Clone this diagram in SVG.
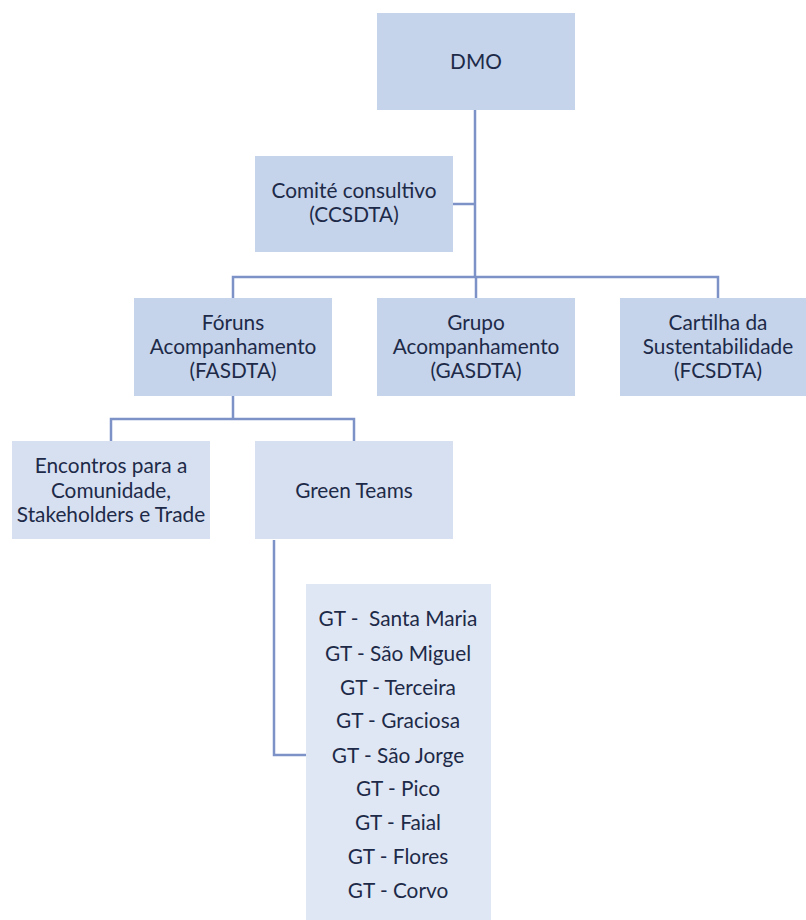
<svg xmlns="http://www.w3.org/2000/svg" width="806" height="920" viewBox="0 0 806 920">
<style>
.b1{fill:#c5d3eb}
.b2{fill:#d7e0f1}
.b3{fill:#e0e7f4}
.t{font-family:Lato,"Liberation Sans",sans-serif;font-size:20.8px;fill:#1d2a48;text-anchor:middle}
.c{fill:none;stroke:#7d93c8;stroke-width:2.5}
</style>
<rect width="806" height="920" fill="#ffffff"/>
<g id="connectors">
<path class="c" d="M475,110 V277"/>
<path class="c" d="M453,204 H475"/>
<path class="c" d="M233,298 V277 H718 V298"/>
<path class="c" d="M476,277 V298"/>
<path class="c" d="M233,396 V419"/>
<path class="c" d="M111,441 V419 H354 V441"/>
<path class="c" d="M274,540 V755 H306"/>
</g>
<g id="dmo"><rect class="b1" x="377" y="13" width="198" height="97"/><text class="t" x="476" y="69">DMO</text></g>
<g id="comite"><rect class="b1" x="255" y="156" width="198" height="96"/><text class="t" x="354" y="198">Comité consultivo</text><text class="t" x="354" y="222">(CCSDTA)</text></g>
<g id="foruns"><rect class="b1" x="134" y="298" width="198" height="98"/><text class="t" x="233" y="330">Fóruns</text><text class="t" x="233" y="354">Acompanhamento</text><text class="t" x="233" y="378">(FASDTA)</text></g>
<g id="grupo"><rect class="b1" x="377" y="298" width="198" height="98"/><text class="t" x="476" y="330">Grupo</text><text class="t" x="476" y="354">Acompanhamento</text><text class="t" x="476" y="378">(GASDTA)</text></g>
<g id="cartilha"><rect class="b1" x="620" y="298" width="186" height="98"/><text class="t" x="718" y="330">Cartilha da</text><text class="t" x="718" y="354">Sustentabilidade</text><text class="t" x="718" y="378">(FCSDTA)</text></g>
<g id="encontros"><rect class="b2" x="12" y="441" width="198" height="98"/><text class="t" x="111" y="473">Encontros para a</text><text class="t" x="111" y="498">Comunidade,</text><text class="t" x="111" y="522">Stakeholders e Trade</text></g>
<g id="greenteams"><rect class="b2" x="255" y="441" width="198" height="98"/><text class="t" x="354" y="498">Green Teams</text></g>
<g id="gtlist"><rect class="b3" x="306" y="584" width="185" height="336"/>
<text class="t" x="398" y="626" xml:space="preserve">GT -  Santa Maria</text>
<text class="t" x="398" y="661">GT - São Miguel</text>
<text class="t" x="398" y="695">GT - Terceira</text>
<text class="t" x="398" y="728">GT - Graciosa</text>
<text class="t" x="398" y="763">GT - São Jorge</text>
<text class="t" x="398" y="796">GT - Pico</text>
<text class="t" x="398" y="830">GT - Faial</text>
<text class="t" x="398" y="864">GT - Flores</text>
<text class="t" x="398" y="898">GT - Corvo</text>
</g>
</svg>
